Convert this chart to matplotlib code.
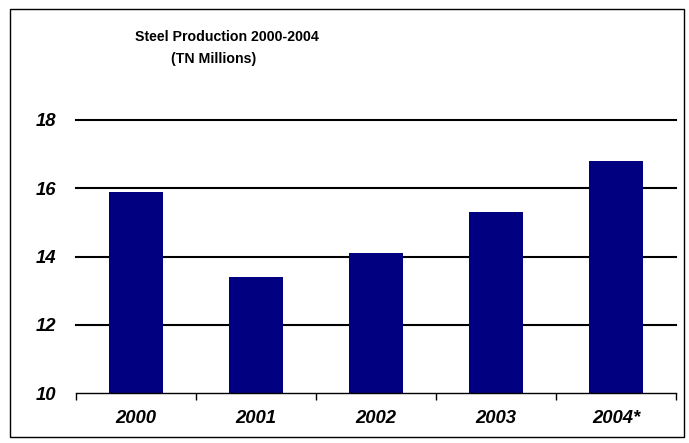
import numpy as np
import matplotlib.pyplot as plt
from matplotlib.patches import Rectangle

years = ['2000', '2001', '2002', '2003', '2004*']
production = [15.9, 13.4, 14.1, 15.3, 16.8]

plt.rcParams['font.family'] = ['Liberation Sans', 'DejaVu Sans']

fig = plt.figure(figsize=(6.89, 4.43), dpi=100)
ax = fig.add_axes([76 / 689, 1 - 393 / 443, 600 / 689, 273 / 443])

x = np.arange(len(years))
ax.bar(x, np.array(production) - 9.95, bottom=9.95, width=0.45, color='#000080', zorder=3)

ax.set_xlim(-0.5, len(years) - 0.5)
ax.set_ylim(10, 18)
ax.set_yticks([10, 12, 14, 16, 18])
for v in [12, 14, 16, 18]:
    ax.axhline(v, color='black', lw=1.5, zorder=1, clip_on=False)

ax.set_xticks(x)
ax.set_xticklabels(years)
ax.set_xticks(np.arange(-0.5, len(years)), minor=True)
ax.tick_params(axis='x', which='major', length=0, pad=12)
ax.tick_params(axis='x', which='minor', length=5, width=1, direction='out')
ax.tick_params(axis='y', length=0, pad=14)
for lab in ax.get_xticklabels() + ax.get_yticklabels():
    lab.set_fontsize(13.3)
    lab.set_fontweight('bold')
    lab.set_fontstyle('italic')

for s in ['left', 'right', 'top']:
    ax.spines[s].set_visible(False)
ax.spines['bottom'].set_linewidth(1)
ax.spines['bottom'].set_zorder(4)

fig.text(227 / 689, 1 - 37 / 443, 'Steel Production 2000-2004', ha='center', va='center',
         fontsize=10.2, fontweight='bold')
fig.text(214 / 689, 1 - 59 / 443, '(TN Millions)', ha='center', va='center',
         fontsize=10.2, fontweight='bold')

fig.patches.append(Rectangle((10 / 689, 1 - 437 / 443), 674 / 689, 428 / 443,
                             transform=fig.transFigure, fill=False, edgecolor='black', lw=1))

fig.savefig('out.png', dpi=100)
